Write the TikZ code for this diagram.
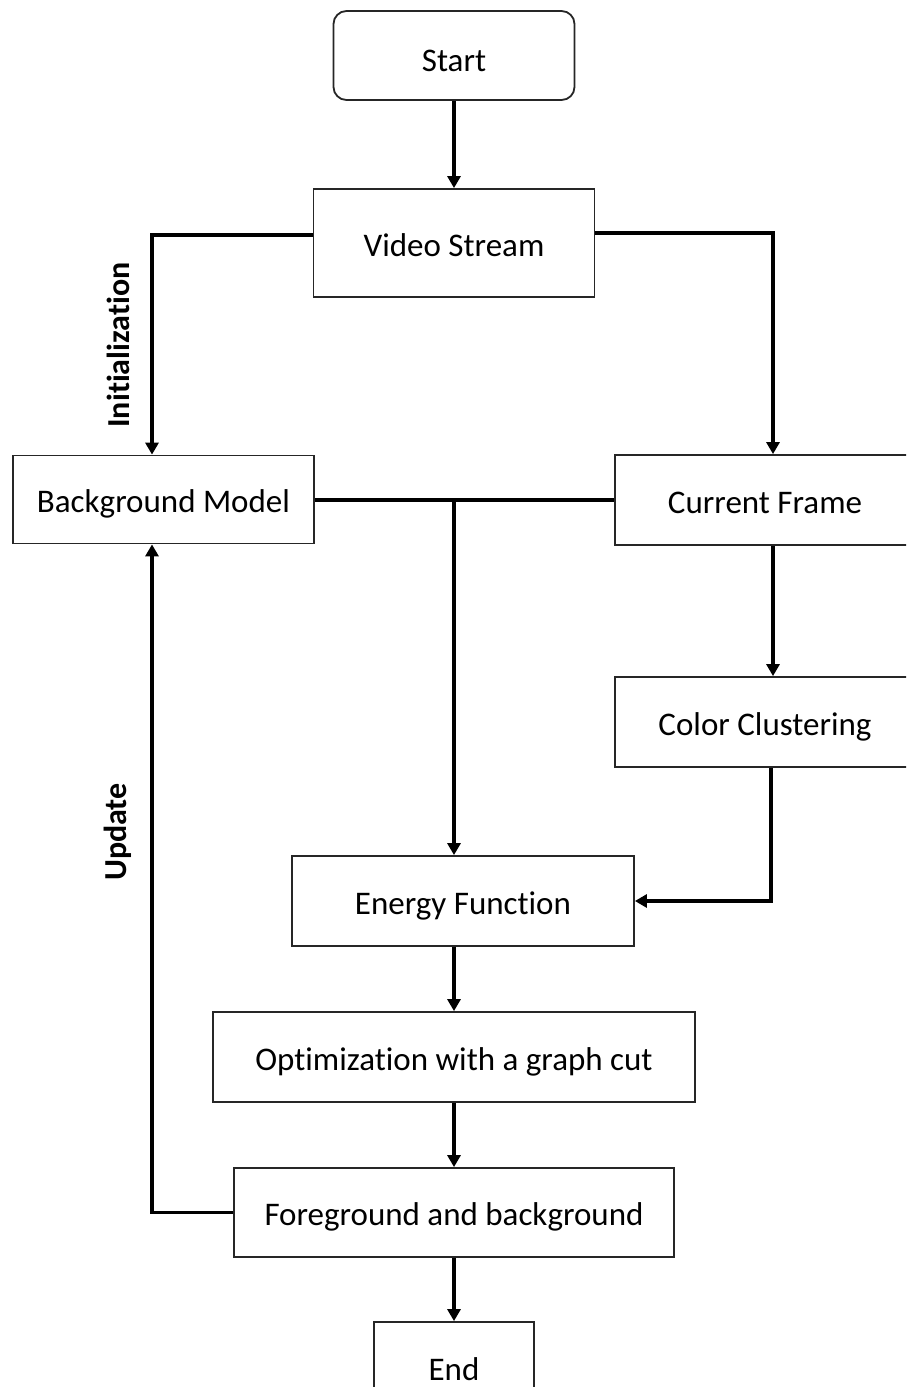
\documentclass[tikz,border=0pt]{standalone}
\usepackage{fontspec}
\setmainfont{Carlito}[Ligatures={NoCommon}]
\usetikzlibrary{arrows.meta}
\begin{document}
\begin{tikzpicture}[x=1pt,y=-1pt,
  box/.style={draw=black!85, line width=1.8pt, rectangle, inner sep=0pt, fill=white,
    font=\fontsize{33pt}{40pt}\selectfont, text=black, text height=26pt, text depth=0pt},
  startbox/.style={box, rounded corners=13pt, text height=31pt},
  conn/.style={line width=3.4pt, -{Triangle[width=13pt,length=12pt]}},
  plain/.style={line width=3.4pt},
  sidelabel/.style={rotate=90, font=\fontsize{32pt}{38pt}\selectfont\bfseries, text=black}]
\useasboundingbox (0,0) rectangle (906,1387);
\clip (0,0) rectangle (906,1387);

% process boxes
\node[startbox, minimum width=241pt, minimum height=89pt] (start) at (454,55.5) {Start};
\node[box, minimum width=281pt, minimum height=108pt] (video) at (454,243) {Video Stream};
\node[box, minimum width=301pt, minimum height=88pt] (bg) at (163.5,499.5) {Background Model};
\node[box, minimum width=300pt, minimum height=90pt] (cur) at (765,500) {Current Frame};
\node[box, minimum width=300pt, minimum height=90pt] (color) at (765,722) {Color Clustering};
\node[box, minimum width=342pt, minimum height=90pt] (energy) at (463,901) {Energy Function};
\node[box, minimum width=482pt, minimum height=90pt] (opt) at (454,1057) {Optimization with a graph cut};
\node[box, minimum width=440pt, minimum height=89pt] (fg) at (454,1212.5) {Foreground and background};
\node[box, minimum width=160pt, minimum height=90pt] (end) at (454,1367) {End};

% main flow
\draw[conn] (start.south) -- (video.north);
\draw[conn] ([yshift=8pt]video.west) -| ([xshift=-11.5pt]bg.north);
\draw[conn] ([yshift=10pt]video.east) -| ([xshift=8pt]cur.north);
\draw[plain] (bg.east |- cur.west) -- (cur.west);
\draw[conn] (video.south |- cur.west) -- (video.south |- energy.north);
\draw[conn] ([xshift=8pt]cur.south) -- ([xshift=8pt]color.north);
\draw[conn] ([xshift=6pt]color.south) |- (energy.east);
\draw[conn] (opt.north |- energy.south) -- (opt.north);
\draw[conn] (opt.south) -- (fg.north);
\draw[conn] (fg.south) -- (end.north);
\draw[conn] (fg.west) -| ([xshift=-11.5pt]bg.south);

% side labels
\node[sidelabel] (init) at (118,345) {Initialization};
\node[sidelabel] (upd) at (118,832) {Update};
\end{tikzpicture}
\end{document}
